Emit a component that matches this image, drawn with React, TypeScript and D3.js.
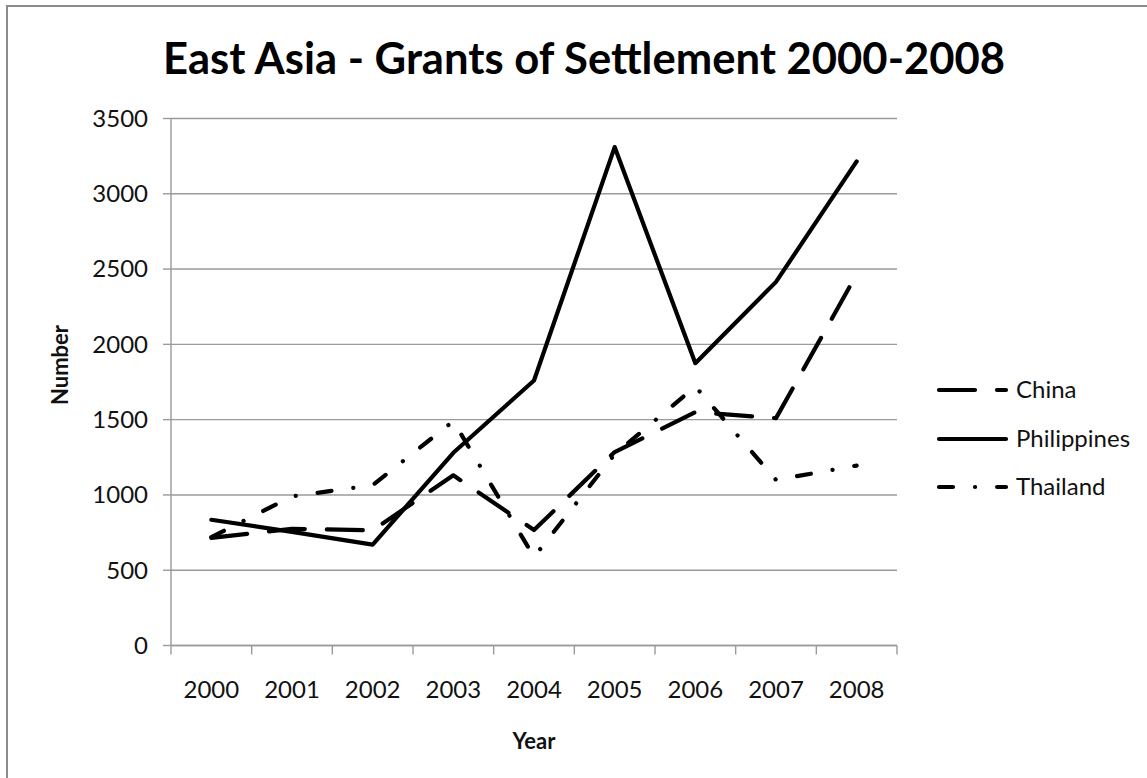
import React from 'react';
import * as d3 from 'd3';

const years = ['2000', '2001', '2002', '2003', '2004', '2005', '2006', '2007', '2008'];
const china = [715, 775, 765, 1130, 767, 1285, 1550, 1510, 2465];
const philippines = [835, 755, 670, 1280, 1760, 3310, 1875, 2415, 3215];
const thailand = [720, 990, 1065, 1490, 588, 1270, 1720, 1100, 1195];
const yTicks = [0, 500, 1000, 1500, 2000, 2500, 3000, 3500];
const seriesNames = ['China', 'Philippines', 'Thailand'];

const W = 1147;
const H = 778;
const FONT = 'Lato, "Open Sans", sans-serif';

export default function App() {
  const x = d3.scaleBand<string>().domain(years).range([171, 897]).paddingInner(0).paddingOuter(0);
  const y = d3.scaleLinear().domain([0, 3500]).range([645.5, 118.5]);
  const cx = (d: string) => (x(d) as number) + x.bandwidth() / 2;

  const line = d3
    .line<number>()
    .x((_, i) => cx(years[i]))
    .y((v) => y(v));

  const series = [
    { name: seriesNames[0], values: china, dash: '36 22' },
    { name: seriesNames[1], values: philippines, dash: 'none' },
    { name: seriesNames[2], values: thailand, dash: '14 22 0.1 22' },
  ];

  const legendY = [390, 439, 487];
  const xTickPositions = [...years.map((d) => x(d) as number), 897];

  return (
    <svg
      width={W}
      height={H}
      viewBox={`0 0 ${W} ${H}`}
      style={{ position: 'absolute', left: 0, top: 0, background: '#fff' }}
    >
      <rect x={0} y={0} width={W} height={H} fill="#fff" />
      <rect x={7} y={6} width={1300} height={1000} fill="none" stroke="#8c8c8c" strokeWidth={2} />

      {/* title */}
      <text
        x={584}
        y={73.5}
        textAnchor="middle"
        fontFamily={FONT}
        fontWeight={700}
        fontSize={44}
        textLength={842}
        lengthAdjust="spacingAndGlyphs"
        fill="#000"
      >
        East Asia - Grants of Settlement 2000-2008
      </text>

      {/* gridlines */}
      {yTicks.map((t) => (
        <line key={'g' + t} x1={171} x2={897} y1={y(t)} y2={y(t)} stroke="#9a9a9a" strokeWidth={1.4} />
      ))}
      {/* y axis */}
      <line x1={171} x2={171} y1={y(3500)} y2={y(0)} stroke="#9a9a9a" strokeWidth={1.4} />
      {yTicks.map((t) => (
        <line key={'yt' + t} x1={163} x2={171} y1={y(t)} y2={y(t)} stroke="#9a9a9a" strokeWidth={1.4} />
      ))}
      {yTicks.map((t) => (
        <text
          key={'yl' + t}
          x={148}
          y={y(t)}
          dy="0.35em"
          textAnchor="end"
          fontFamily={FONT}
          fontSize={24}
          fill="#111"
        >
          {t}
        </text>
      ))}
      {/* x axis */}
      <line x1={171} x2={897} y1={y(0)} y2={y(0)} stroke="#9a9a9a" strokeWidth={1.4} />
      {xTickPositions.map((p, i) => (
        <line key={'xt' + i} x1={p} x2={p} y1={y(0)} y2={y(0) + 9} stroke="#9a9a9a" strokeWidth={1.4} />
      ))}
      {years.map((d) => (
        <text
          key={'xl' + d}
          x={cx(d)}
          y={689.5}
          dy="0.35em"
          textAnchor="middle"
          fontFamily={FONT}
          fontSize={24}
          fill="#111"
        >
          {d}
        </text>
      ))}

      {/* axis titles */}
      <text
        x={534}
        y={741}
        dy="0.35em"
        textAnchor="middle"
        fontFamily={FONT}
        fontWeight={700}
        fontSize={22}
        fill="#111"
      >
        Year
      </text>
      <text
        transform="translate(60,365) rotate(-90)"
        dy="0.35em"
        textAnchor="middle"
        fontFamily={FONT}
        fontWeight={700}
        fontSize={22}
        fill="#111"
      >
        Number
      </text>

      {/* series */}
      {series.map((s) => (
        <path
          key={s.name}
          d={line(s.values) || ''}
          fill="none"
          stroke="#000"
          strokeWidth={4.2}
          strokeLinecap="round"
          strokeLinejoin="round"
          strokeDasharray={s.dash}
        />
      ))}

      {/* legend */}
      {series.map((s, i) => (
        <g key={'lg' + s.name}>
          <line
            x1={939}
            x2={1006}
            y1={legendY[i]}
            y2={legendY[i]}
            stroke="#000"
            strokeWidth={4.2}
            strokeLinecap="round"
            strokeDasharray={s.dash}
          />
          <text
            x={1016}
            y={legendY[i]}
            dy="0.35em"
            fontFamily={FONT}
            fontSize={24}
            fill="#111"
          >
            {s.name}
          </text>
        </g>
      ))}
    </svg>
  );
}
